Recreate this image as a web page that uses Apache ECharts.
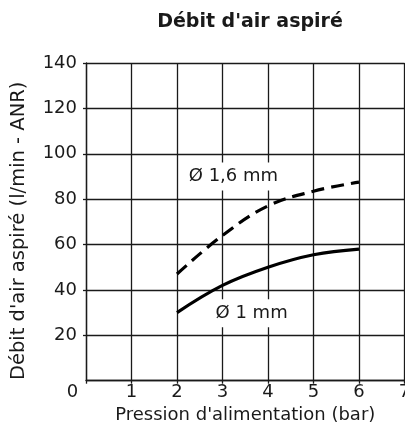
<!DOCTYPE html>
<html>
<head>
<meta charset="utf-8">
<script src="https://cdn.jsdelivr.net/npm/echarts@6/dist/echarts.min.js"></script>
<style>
html,body{margin:0;padding:0;background:#fff;}
#chart{width:405px;height:436px;}
</style>
</head>
<body>
<div id="chart"></div>
<script>
const titleText = "Débit d'air aspiré";
const xAxisName = "Pression d'alimentation (bar)";
const yAxisName = "Débit d'air aspiré (l/min - ANR)";
const pressure = [2, 3, 4, 5, 6];
const flow1mm = [30, 42, 50, 55.5, 58];
const flow16mm = [47, 64, 77, 83.5, 87.5];
const seriesNames = ["Ø 1 mm", "Ø 1,6 mm"];
const labelPositions = [[3.64, 29.7], [3.24, 90]];

const FONT = "DejaVu Sans";
const INK = "#1a1a1a";

const chart = echarts.init(document.getElementById('chart'), null, {renderer: 'canvas'});
chart.setOption({
  animation: false,
  backgroundColor: '#fff',
  title: {
    text: titleText,
    left: 245,
    textAlign: 'center',
    top: 8,
    textStyle: {fontFamily: FONT, fontSize: 19, fontWeight: 'bold', color: INK}
  },
  grid: {left: 86, top: 63, right: 0.5, bottom: 55.3, containLabel: false, outerBoundsMode: 'none'},
  xAxis: {
    type: 'value', min: 0, max: 7, interval: 1,
    name: xAxisName, nameLocation: 'middle', nameGap: 26,
    nameTextStyle: {fontFamily: FONT, fontSize: 18, color: INK},
    axisLine: {show: true, lineStyle: {color: INK, width: 1.3}},
    axisTick: {show: true, length: 3, lineStyle: {color: INK, width: 1.3}},
    axisLabel: {
      fontFamily: FONT, fontSize: 18, color: INK, margin: 3, hideOverlap: false,
      formatter: v => v === 0 ? '{o|0}' : String(v),
      rich: {o: {fontFamily: FONT, fontSize: 18, color: INK, padding: [0, 27, 0, 0]}}
    },
    splitLine: {show: true, lineStyle: {color: INK, width: 1.3}}
  },
  yAxis: {
    type: 'value', min: 0, max: 140, interval: 20,
    name: yAxisName, nameLocation: 'middle', nameGap: 57,
    nameTextStyle: {fontFamily: FONT, fontSize: 19.5, color: INK, padding: [0, 18, 0, 0]},
    axisLine: {show: true, lineStyle: {color: INK, width: 1.3}},
    axisTick: {show: true, length: 3, lineStyle: {color: INK, width: 1.3}},
    axisLabel: {fontFamily: FONT, fontSize: 18, color: INK, margin: 9, showMinLabel: false},
    splitLine: {show: true, lineStyle: {color: INK, width: 1.3}}
  },
  series: [
    {
      name: seriesNames[0], type: 'line', smooth: 0.4, showSymbol: false,
      data: pressure.map((p, i) => [p, flow1mm[i]]),
      lineStyle: {color: '#000', width: 3.2, type: 'solid', cap: 'butt'},
      z: 3
    },
    {
      name: seriesNames[1], type: 'line', smooth: 0.4, showSymbol: false,
      data: pressure.map((p, i) => [p, flow16mm[i]]),
      lineStyle: {color: '#000', width: 3.2, type: [13, 7], cap: 'butt'},
      z: 3
    },
    {
      type: 'scatter', symbolSize: 0, silent: true, z: 4,
      itemStyle: {opacity: 1},
      data: labelPositions.map((pos, i) => ({value: pos, name: seriesNames[i]})),
      label: {
        show: true, position: 'inside', formatter: p => p.name,
        fontFamily: FONT, fontSize: 18, color: INK, opacity: 1,
        backgroundColor: '#fff', padding: [5, 2]
      }
    }
  ]
});
</script>
</body>
</html>
